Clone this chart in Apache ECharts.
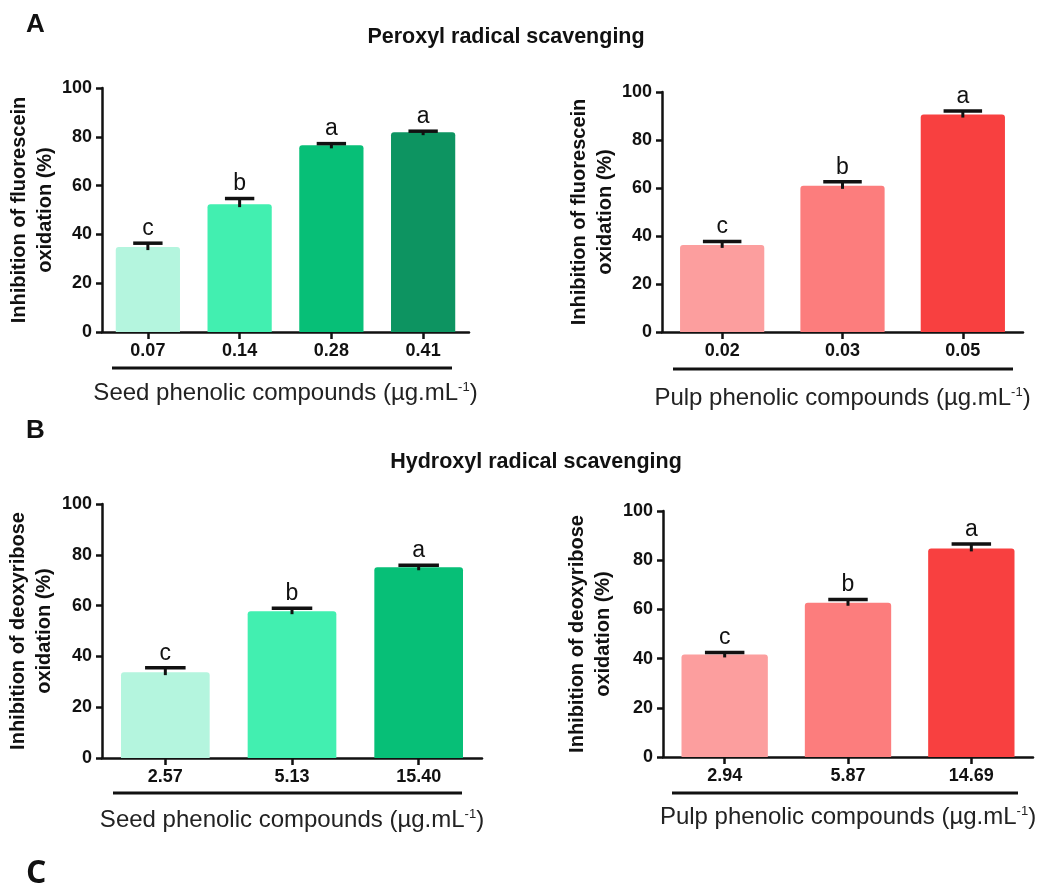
<!DOCTYPE html>
<html>
<head>
<meta charset="utf-8">
<script src="https://cdn.jsdelivr.net/npm/echarts@6/dist/echarts.min.js"></script>
<style>
  html, body { margin: 0; padding: 0; background: #fff; }
  #chart { width: 1041px; height: 883px; }
</style>
</head>
<body>
<div id="chart"></div>
<script>
// panel A: peroxyl radical scavenging
const seedPeroxylDoses = ['0.07', '0.14', '0.28', '0.41']
const seedPeroxylMean = [34.8, 52.4, 76.5, 81.9]
const seedPeroxylSd = [1.6, 2.3, 0.7, 0.4]
const seedPeroxylLetters = ['c', 'b', 'a', 'a']

const pulpPeroxylDoses = ['0.02', '0.03', '0.05']
const pulpPeroxylMean = [36.3, 60.9, 90.6]
const pulpPeroxylSd = [1.4, 1.7, 1.5]
const pulpPeroxylLetters = ['c', 'b', 'a']

// panel B: hydroxyl radical scavenging
const seedHydroxylDoses = ['2.57', '5.13', '15.40']
const seedHydroxylMean = [33.8, 57.8, 75.1]
const seedHydroxylSd = [1.7, 1.2, 0.8]
const seedHydroxylLetters = ['c', 'b', 'a']

const pulpHydroxylDoses = ['2.94', '5.87', '14.69']
const pulpHydroxylMean = [41.7, 62.7, 84.8]
const pulpHydroxylSd = [0.8, 1.3, 1.8]
const pulpHydroxylLetters = ['c', 'b', 'a']

const yTicks = [0, 20, 40, 60, 80, 100]

const greens = ['#b4f5de', '#42efb0', '#07bf77', '#0d9461']
const greens3 = ['#b4f5de', '#42efb0', '#07bf77']
const reds = ['#fc9e9e', '#fc7d7d', '#f84040']

const FONT = "'Liberation Sans', Arial, Helvetica, sans-serif"
const INK = '#111'

const panels = [
  { doses: seedPeroxylDoses, mean: seedPeroxylMean, sd: seedPeroxylSd, letters: seedPeroxylLetters, colors: greens,
    grid: { left: 102, top: 88, width: 367, height: 244 },
    xName: 'Seed phenolic compounds (µg.mL{sup|-1})', yName: 'Inhibition of fluorescein\noxidation (%)', xGap: 49, yGap: 42 },
  { doses: pulpPeroxylDoses, mean: pulpPeroxylMean, sd: pulpPeroxylSd, letters: pulpPeroxylLetters, colors: reds,
    grid: { left: 662, top: 92, width: 361, height: 240 },
    xName: 'Pulp phenolic compounds (µg.mL{sup|-1})', yName: 'Inhibition of fluorescein\noxidation (%)', xGap: 54, yGap: 42 },
  { doses: seedHydroxylDoses, mean: seedHydroxylMean, sd: seedHydroxylSd, letters: seedHydroxylLetters, colors: greens3,
    grid: { left: 102, top: 504, width: 380, height: 254 },
    xName: 'Seed phenolic compounds (µg.mL{sup|-1})', yName: 'Inhibition of deoxyribose\noxidation (%)', xGap: 50, yGap: 45 },
  { doses: pulpHydroxylDoses, mean: pulpHydroxylMean, sd: pulpHydroxylSd, letters: pulpHydroxylLetters, colors: reds,
    grid: { left: 663, top: 511, width: 370, height: 246 },
    xName: 'Pulp phenolic compounds (µg.mL{sup|-1})', yName: 'Inhibition of deoxyribose\noxidation (%)', xGap: 48, yGap: 47 }
]

function errorBars(letters) {
  return function (params, api) {
    const i = api.value(0)
    const v = api.value(1)
    const e = api.value(2)
    const base = api.coord([i, v])
    const top = api.coord([i, v + e])
    const band = api.size([1, 0])[0]
    const half = band * 0.16
    return {
      type: 'group',
      children: [
        { type: 'line', shape: { x1: base[0], y1: base[1] + 3, x2: top[0], y2: top[1] },
          style: { stroke: INK, lineWidth: 3 } },
        { type: 'line', shape: { x1: top[0] - half, y1: top[1], x2: top[0] + half, y2: top[1] },
          style: { stroke: INK, lineWidth: 3.5 } },
        { type: 'text', x: top[0], y: top[1] - 3,
          style: { text: letters[params.dataIndex], align: 'center', verticalAlign: 'bottom',
                   font: '23px ' + FONT, fill: INK } }
      ]
    }
  }
}

const grids = []
const xAxes = []
const yAxes = []
const series = []

panels.forEach(function (p, k) {
  grids.push(Object.assign({ containLabel: false, outerBoundsMode: 'none' }, p.grid))
  xAxes.push({
    type: 'category',
    gridIndex: k,
    data: p.doses,
    name: p.xName,
    nameLocation: 'middle',
    nameGap: p.xGap,
    nameTextStyle: {
      fontFamily: FONT, fontSize: 24, color: '#222', verticalAlign: 'top',
      rich: { sup: { fontFamily: FONT, fontSize: 13, color: '#222', verticalAlign: 'top', padding: [0, 0, 10, 0] } }
    },
    axisLine: { show: true, lineStyle: { color: INK, width: 2.5 } },
    axisTick: { show: true, alignWithLabel: true, length: 7, lineStyle: { color: INK, width: 2.5 } },
    axisLabel: { fontFamily: FONT, fontSize: 18, fontWeight: 'bold', color: INK, margin: 10 },
    splitLine: { show: false }
  })
  yAxes.push({
    type: 'value',
    gridIndex: k,
    min: yTicks[0],
    max: yTicks[yTicks.length - 1],
    interval: yTicks[1] - yTicks[0],
    name: p.yName,
    nameLocation: 'middle',
    nameRotate: 90,
    nameGap: p.yGap,
    nameTextStyle: { fontFamily: FONT, fontSize: 20, fontWeight: 'bold', color: INK, lineHeight: 26 },
    axisLine: { show: true, lineStyle: { color: INK, width: 2.5 } },
    axisTick: { show: true, length: 6, lineStyle: { color: INK, width: 2.5 } },
    axisLabel: { fontFamily: FONT, fontSize: 18, fontWeight: 'bold', color: INK, margin: 10 },
    splitLine: { show: false }
  })
  series.push({
    type: 'bar',
    xAxisIndex: k,
    yAxisIndex: k,
    data: p.mean,
    barCategoryGap: '30%',
    itemStyle: {
      color: function (d) { return p.colors[d.dataIndex] },
      borderRadius: [3, 3, 0, 0]
    },
    silent: true,
    z: 2
  })
  series.push({
    type: 'custom',
    xAxisIndex: k,
    yAxisIndex: k,
    data: p.mean.map(function (v, i) { return [i, v, p.sd[i]] }),
    encode: { x: 0, y: 1 },
    renderItem: errorBars(p.letters),
    silent: true,
    z: 5
  })
})

function textEl(text, x, y, font, align) {
  return { type: 'text', x: x, y: y, style: { text: text, font: font, fill: INK, align: align || 'left', verticalAlign: 'middle' } }
}
function rule(x1, x2, y) {
  return { type: 'line', shape: { x1: x1, y1: y, x2: x2, y2: y }, style: { stroke: INK, lineWidth: 3 } }
}

const chart = echarts.init(document.getElementById('chart'), null, { renderer: 'canvas' })
chart.setOption({
  backgroundColor: '#fff',
  animation: false,
  grid: grids,
  xAxis: xAxes,
  yAxis: yAxes,
  series: series,
  graphic: [
    textEl('A', 26, 25, 'bold 26px ' + FONT),
    textEl('B', 26, 431, 'bold 26px ' + FONT),
    textEl('C', 26, 874, 'bold 32px "Open Sans", ' + FONT),
    textEl('Peroxyl radical scavenging', 506, 37, 'bold 21.5px ' + FONT, 'center'),
    textEl('Hydroxyl radical scavenging', 536, 462, 'bold 21.5px ' + FONT, 'center'),
    rule(112, 452, 368),
    rule(673, 1013, 369),
    rule(113, 462, 793),
    rule(672, 1018, 793)
  ]
})
</script>
</body>
</html>
